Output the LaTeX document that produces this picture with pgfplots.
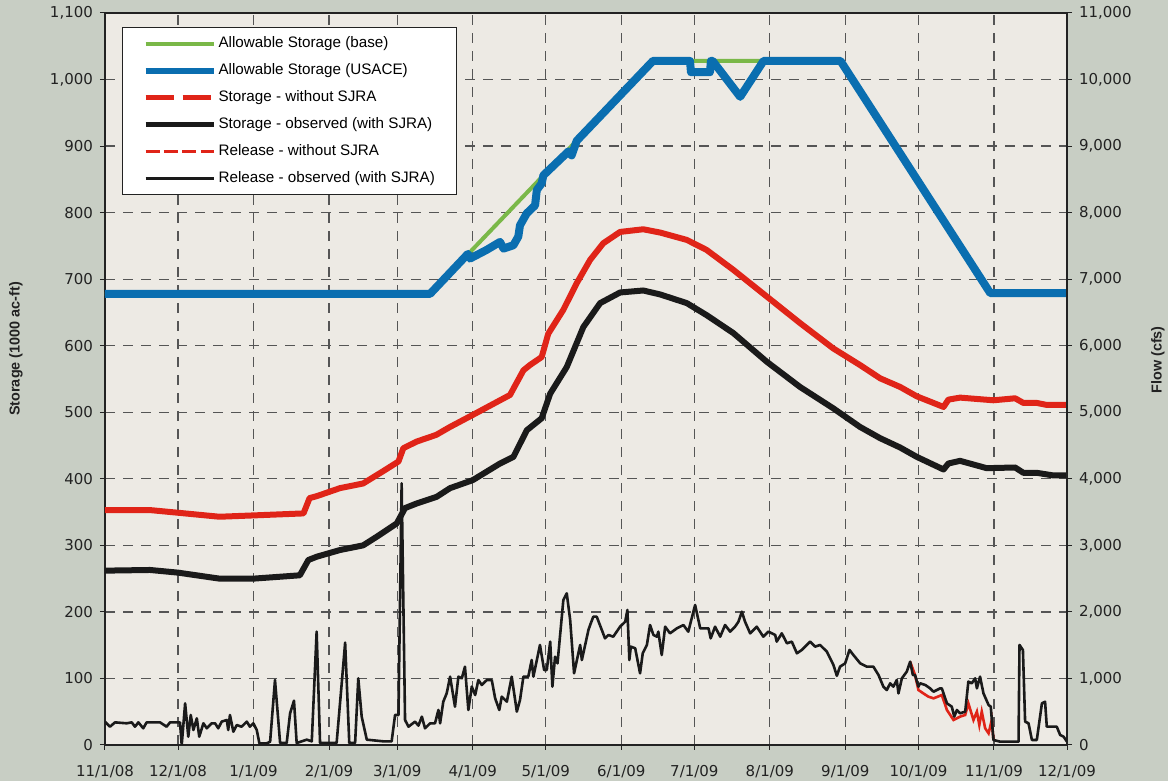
\documentclass[border=0pt]{standalone}
\usepackage{fontspec}
\setmainfont{Liberation Sans}
\newfontfamily\tickfont{DejaVu Sans}
\usepackage{pgfplots}
\pgfplotsset{compat=1.18}
\definecolor{outbg}{RGB}{200,206,196}
\definecolor{plotbg}{RGB}{237,234,228}
\definecolor{cgreen}{RGB}{122,184,72}
\definecolor{cblue}{RGB}{10,110,176}
\definecolor{cred}{RGB}{224,36,24}
\definecolor{cblack}{RGB}{26,26,26}
\definecolor{gridc}{RGB}{85,85,85}
\definecolor{axc}{RGB}{34,34,34}
\pgfplotsset{
 base/.style={
  scale only axis, width=481pt, height=366pt,
  at={(52.5pt,18pt)}, anchor=south west,
  xmin=0, xmax=395,
  tick align=outside, major tick length=2.5pt,
  tick style={axc, line width=0.5pt},
  axis line style={axc, line width=1.2pt},
  ticklabel style={font=\tickfont\fontsize{7.5}{9}\selectfont, text=axc},
  /pgf/number format/assume math mode=true,
  label style={font=\bfseries\fontsize{7.2}{8.6}\selectfont, text=axc},
 }
}
\begin{document}
\begin{tikzpicture}
\fill[outbg] (0,0) rectangle (584pt,390.5pt);
\useasboundingbox (0,0) rectangle (584pt,390.5pt);
\begin{axis}[base,
  ymin=0, ymax=1100, ytick={0,100,...,1100},
  xtick={0,30,61,92,120,151,181,212,242,273,304,334,365,395},
  xticklabels={11/1/08,12/1/08,1/1/09,2/1/09,3/1/09,4/1/09,5/1/09,6/1/09,7/1/09,8/1/09,9/1/09,10/1/09,11/1/09,12/1/09},
  xticklabel style={yshift=-4pt},
  xtick pos=left, ytick pos=left,
  grid=major,
  grid style={gridc, dash pattern=on 5pt off 4pt, line width=0.6pt},
  axis background/.style={fill=plotbg},
  ylabel={Storage (1000 ac-ft)},
  ylabel style={at={(axis description cs:-0.0925,0.541)}, anchor=center},
]
% Allowable Storage (base)
\addplot[cgreen, line width=2pt] table {
x y
0 678
133.5 678
225 1028
302 1028
363.5 679
395 679
};
% Allowable Storage (USACE)
\addplot[cblue, line width=4pt, line join=round] table {
x y
0 678
133.5 678
149 738
149.9 731
156.7 744
162.2 756
163.6 746
167.7 751
169.7 764
170.4 781
173.2 799
176.6 811
177.3 834
179.3 844
180 856
190.3 892
191.6 886
193.7 908
225 1028
240.2 1028
240.6 1011
248.4 1011
248.8 1028
249.5 1028
260.8 974
270.4 1028
302 1028
363.5 679
395 679
};
% Storage - without SJRA
\addplot[cred, line width=3pt, line join=round] table {
x y
0 353
18.5 353
30 349
47 343
61 345
81.5 348
84 371
87 374
96.5 386
106 393
114 411
120.5 426
122.5 446
128 456
136 466
141.7 478
151 496
162.2 518
166.3 526
171.8 563
174.5 571
179.3 583
182 618
188.2 654
193.7 694
199.2 729
204.6 754
211.5 771
221 775
228 770
238.9 759
247 744
258 714
271.7 674
285.4 634
299 596
310 571
318.3 551
326.5 538
333.3 524
344.3 508
346.3 519
351.1 522
364.8 518
373.7 521
377.1 514
382.6 514
386.7 511
395 511
};
% Storage - observed (with SJRA)
\addplot[cblack, line width=3pt, line join=round] table {
x y
0 262
18.5 263
30 259
47 250
61 250
80 255
83.5 278
87 283
96.5 293
106 300
111.6 313
119.8 333
123.2 356
128 363
136.2 373
141.7 386
151 398
162.2 423
167.7 433
173.2 473
179.3 491
182.8 528
189.6 568
196.4 628
203.3 664
211.5 680
221 683
228 677
238.9 664
247 646
258 619
271.7 576
285.4 538
299 506
310 478
318.3 461
326.5 447
333.3 433
344.3 414
346.3 423
351.1 427
362 416
373.7 417
377.1 409
382.6 409
389.5 405
395 405
};
\end{axis}
\begin{axis}[base,
  ymin=0, ymax=11000, ytick={0,1000,...,11000}, scaled y ticks=false,
  axis x line=none, axis y line*=right,
  ylabel={Flow (cfs)},
  ylabel style={at={(axis description cs:1.0946,0.526)}, anchor=center},
  legend cell align=left,
  legend image code/.code={\draw[#1] (0pt,0pt) -- (34pt,0pt);},
  legend style={at={(0.01767,0.9809)}, anchor=north west, draw=axc, line width=0.6pt,
    fill=white, font=\fontsize{7.6}{9}\selectfont, inner xsep=10pt, inner ysep=2.5pt,
    row sep=2.5pt, nodes={inner xsep=1pt},
    /tikz/every odd column/.append style={column sep=0pt}},
]
\addlegendimage{cgreen, line width=2pt}
\addlegendentry{Allowable Storage (base)}
\addlegendimage{cblue, line width=3pt}
\addlegendentry{Allowable Storage (USACE)}
\addlegendimage{cred, line width=2.5pt, dash pattern=on 14pt off 4.5pt}
\addlegendentry{Storage - without SJRA}
\addlegendimage{cblack, line width=2.5pt}
\addlegendentry{Storage - observed (with SJRA)}
\addlegendimage{cred, line width=1.2pt, dash pattern=on 7pt off 2.2pt}
\addlegendentry{Release - without SJRA}
\addlegendimage{cblack, line width=1.2pt}
\addlegendentry{Release - observed (with SJRA)}
% Release - without SJRA
\addplot[cred, line width=1.3pt, forget plot] table {
x y
330.6 1252
332.6 1052
334.0 826
336.0 776
338.1 726
340.2 701
343.6 751
345.7 526
348.4 376
351.1 426
353.2 451
354.5 626
356.6 376
358.0 501
359.0 300
360.0 501
361.4 251
362.8 176
364.1 376
364.8 75
};
% Release - observed (with SJRA)
\addplot[cblack, line width=1.3pt, forget plot, line join=round] table {
x y
0 351
2.05 275
4.1 340
8.9 326
11.0 340
12.3 275
13.7 340
15.7 251
17.1 340
22.6 340
25.3 275
26.7 340
30.8 340
31.5 0
32.9 626
34.2 125
35.2 451
36.3 225
37.7 401
38.7 125
40.4 326
41.8 251
43.8 326
45.2 326
46.5 251
47.9 351
50.0 376
50.6 225
51.3 451
52.7 200
54.1 300
56.1 275
58.2 351
59.5 275
60.9 326
62.3 225
63.4 25
66.4 25
67.8 50
69.8 977
71.9 30
74.6 30
76.0 476
77.6 666
78.7 30
82.8 80
84.9 55
86.9 1703
88.3 30
95.1 30
97.2 927
98.6 1538
100.3 30
102.7 30
104.0 1002
105.4 426
107.5 80
114.3 55
117.7 55
119.1 451
120.5 451
121.8 3932
123.2 376
124.6 275
127.3 351
128.7 291
130.1 426
131.4 251
133.5 326
135.5 326
136.9 526
137.6 326
138.9 651
140.3 776
141.7 1027
143.7 576
145.1 1027
146.5 1002
147.8 1177
149.2 526
150.6 877
152.0 751
153.3 977
154.7 902
156.8 977
158.8 977
160.2 701
161.9 526
162.9 726
165.0 651
167.0 1027
168.4 676
169.1 501
170.4 676
171.8 1027
173.8 1027
175.2 1277
175.9 1027
178.6 1503
180.3 1127
181.4 1127
182.8 1553
183.7 877
184.8 1327
185.8 1227
188.2 2179
189.6 2279
191.0 1878
192.6 1077
195.1 1503
195.8 1277
198.5 1728
199.2 1803
200.5 1928
201.9 1928
204.0 1728
205.3 1603
206.7 1653
208.7 1628
211.5 1778
213.6 1853
214.5 2029
215.3 1277
215.9 1478
217.7 1453
219.7 1077
220.8 1378
222.5 1503
223.8 1803
225.2 1653
226.6 1628
227.2 1703
228.6 1352
230.0 1778
232.0 1678
234.8 1753
237.5 1803
239.5 1703
242.3 2104
244.4 1753
247.8 1753
248.7 1603
250.5 1778
252.6 1628
254.6 1803
256.7 1703
258.7 1778
260.1 1853
261.5 2003
262.8 1853
264.9 1678
267.6 1778
270.3 1628
272.4 1703
275.2 1653
275.8 1553
277.9 1678
280.0 1528
282.0 1553
284.1 1378
286.1 1428
289.5 1553
291.6 1478
293.6 1503
296.4 1403
299.1 1202
300.5 1040
301.8 1177
303.9 1227
305.7 1428
307.3 1352
310.1 1227
312.8 1177
315.5 1177
317.6 1052
319.6 877
321.0 826
322.4 927
323.7 877
325.1 977
325.8 776
327.2 1002
329.2 1102
330.6 1252
331.7 1052
332.6 1052
334.0 877
334.7 927
336.8 902
338.8 851
340.2 801
342.9 851
343.6 851
345.7 626
347.7 576
348.7 426
349.8 526
351.1 476
353.2 501
354.5 952
355.9 927
357.3 1002
358.0 851
359.3 1027
360.7 776
362.8 601
363.7 576
364.8 75
367.6 50
375.1 50
375.5 1503
376.9 1428
377.8 351
379.2 326
380.6 75
382.6 75
384.7 626
386.0 651
386.7 275
390.8 275
392.2 150
393.6 125
395.0 50
};
\end{axis}
\end{tikzpicture}
\end{document}
